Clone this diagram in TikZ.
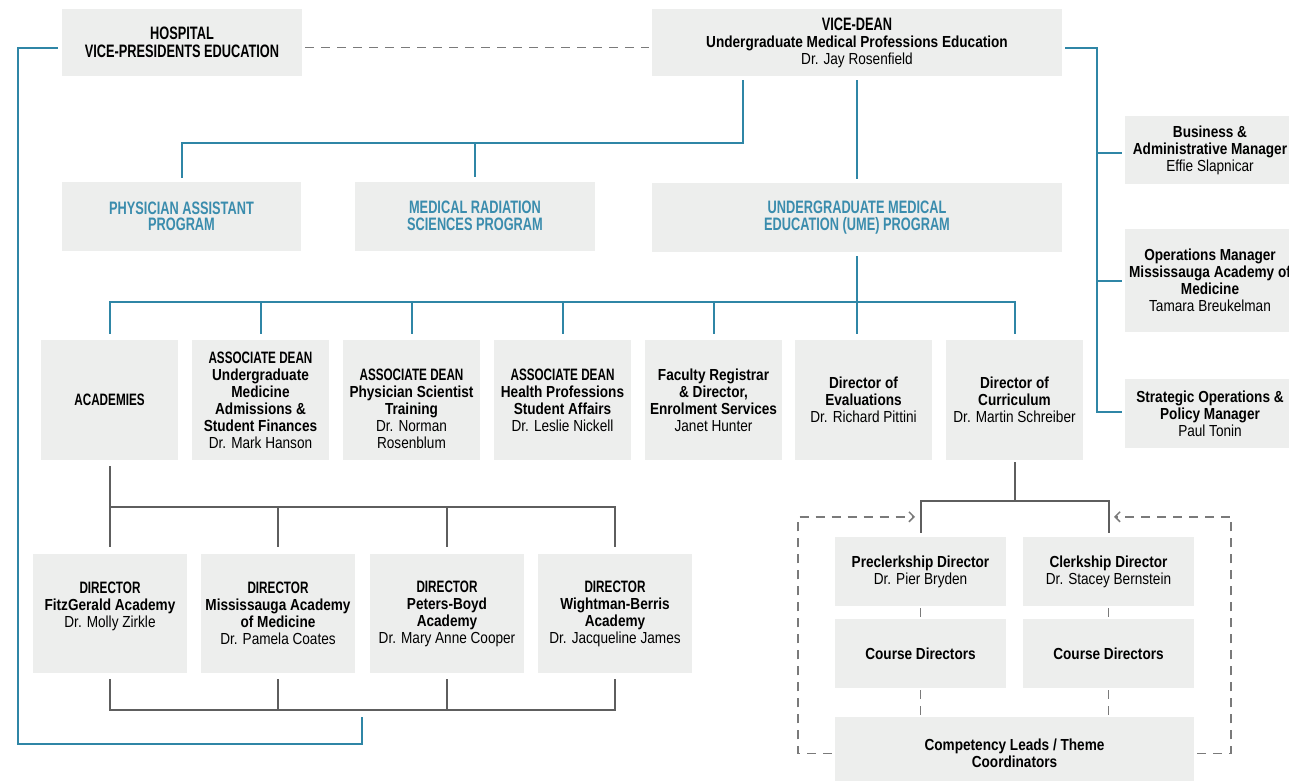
\documentclass[tikz,border=0pt]{standalone}
\usepackage{fontspec}
\setmainfont{Liberation Sans}[FakeStretch=0.85]
\newfontfamily\capsfont{Liberation Sans}[FakeStretch=0.71]
\usetikzlibrary{calc,arrows.meta}
\definecolor{boxgray}{HTML}{EDEEED}
\definecolor{lineblue}{HTML}{2F86A6}
\definecolor{textblue}{HTML}{3A8CAD}
\definecolor{linegray}{HTML}{5E5E5E}
\definecolor{dashgray}{HTML}{7A7A7A}
\newcommand\capl[1]{{\capsfont\bfseries\fontsize{16.5}{17}\selectfont #1}}
\newcommand\bigcapl[1]{{\capsfont\bfseries\fontsize{18}{17}\selectfont #1}}
\newcommand\bfl[1]{{\bfseries #1}}
\begin{document}
\begin{tikzpicture}[x=1pt,y=-1pt,
  box/.style={fill=boxgray,inner sep=0pt,align=center,text=black,font=\fontsize{16}{17}\selectfont},
  bigbox/.style={box,font=\fontsize{16}{18}\selectfont},
  prog/.style={box,font=\fontsize{16}{16.5}\selectfont,text=textblue},
  rbox/.style={box,minimum width=137pt,minimum height=120pt},
  dbox/.style={box,minimum width=154pt,minimum height=119pt},
  sbox/.style={box,minimum width=171pt,minimum height=69pt},
  bl/.style={draw=lineblue,line width=2pt},
  gl/.style={draw=linegray,line width=2pt},
  dl/.style={draw=dashgray,line width=1.5pt,dash pattern=on 9pt off 7pt},
  barb/.style={-{Straight Barb[length=5pt,width=10pt]}}
]
\useasboundingbox (0,0) rectangle (1289,780);

% top level
\node[bigbox,minimum width=240pt,minimum height=67pt] (hosp) at (182,42.5)
  {\bigcapl{HOSPITAL}\\\bigcapl{VICE-PRESIDENTS EDUCATION}};
\node[box,minimum width=410pt,minimum height=67pt] (vd) at (857,42.5)
  {\bigcapl{VICE-DEAN}\\\bfl{Undergraduate Medical Professions Education}\\Dr. Jay Rosenfield};

% programs
\node[prog,minimum width=239pt,minimum height=69pt] (pa) at (181.5,216.5)
  {\bigcapl{PHYSICIAN ASSISTANT}\\\bigcapl{PROGRAM}};
\node[prog,minimum width=240pt,minimum height=69pt] (mrs) at (475,216)
  {\bigcapl{MEDICAL RADIATION}\\\bigcapl{SCIENCES PROGRAM}};
\node[prog,minimum width=410pt,minimum height=69pt] (ume) at (857,217.5)
  {\bigcapl{UNDERGRADUATE MEDICAL}\\\bigcapl{EDUCATION (UME) PROGRAM}};

% right column
\node[box,minimum width=170pt,minimum height=68pt] (biz) at (1210,150)
  {\bfl{Business \&}\\\bfl{Administrative Manager}\\Effie Slapnicar};
\node[box,minimum width=170pt,minimum height=103pt] (ops) at (1210,280.5)
  {\bfl{Operations Manager}\\\bfl{Mississauga Academy of}\\\bfl{Medicine}\\Tamara Breukelman};
\node[box,minimum width=170pt,minimum height=69pt] (strat) at (1210,413.5)
  {\bfl{Strategic Operations \&}\\\bfl{Policy Manager}\\Paul Tonin};

% row 3
\node[rbox] (acad) at (109.5,400) {\capl{ACADEMIES}};
\node[rbox] (ad1) at (260.5,400)
  {\capl{ASSOCIATE DEAN}\\\bfl{Undergraduate}\\\bfl{Medicine}\\\bfl{Admissions \&}\\\bfl{Student Finances}\\Dr. Mark Hanson};
\node[rbox] (ad2) at (411.5,400)
  {\mbox{}\\[12pt]\capl{ASSOCIATE DEAN}\\\bfl{Physician Scientist}\\\bfl{Training}\\Dr. Norman\\Rosenblum};
\node[rbox] (ad3) at (562.5,400)
  {\capl{ASSOCIATE DEAN}\\\bfl{Health Professions}\\\bfl{Student Affairs}\\Dr. Leslie Nickell};
\node[rbox] (reg) at (713.5,400)
  {\bfl{Faculty Registrar}\\\bfl{\& Director,}\\\bfl{Enrolment Services}\\Janet Hunter};
\node[rbox] (eval) at (863.5,400)
  {\bfl{Director of}\\\bfl{Evaluations}\\Dr. Richard Pittini};
\node[rbox] (curr) at (1014.5,400)
  {\bfl{Director of}\\\bfl{Curriculum}\\Dr. Martin Schreiber};

% academy directors
\node[dbox] (d1) at (110,613.5)
  {\capl{DIRECTOR}\\\bfl{FitzGerald Academy}\\Dr. Molly Zirkle\\\mbox{}};
\node[dbox] (d2) at (278,613.5)
  {\capl{DIRECTOR}\\\bfl{Mississauga Academy}\\\bfl{of Medicine}\\Dr. Pamela Coates};
\node[dbox] (d3) at (447,613.5)
  {\capl{DIRECTOR}\\\bfl{Peters-Boyd}\\\bfl{Academy}\\Dr. Mary Anne Cooper};
\node[dbox] (d4) at (615,613.5)
  {\capl{DIRECTOR}\\\bfl{Wightman-Berris}\\\bfl{Academy}\\Dr. Jacqueline James};

% curriculum
\node[sbox] (pre) at (920.5,571.5) {\bfl{Preclerkship Director}\\Dr. Pier Bryden};
\node[sbox] (clk) at (1108.5,571.5) {\bfl{Clerkship Director}\\Dr. Stacey Bernstein};
\node[sbox] (cd1) at (920.5,653.5) {\bfl{Course Directors}};
\node[sbox] (cd2) at (1108.5,653.5) {\bfl{Course Directors}};
\node[box,minimum width=359pt,minimum height=73pt] (comp) at (1014.5,753.5)
  {\bfl{Competency Leads / Theme}\\\bfl{Coordinators}};

\coordinate (hospend) at (362,717);

% blue connectors
\draw[bl] ($(hosp.west)+(-4,5)$) -| (18,744) -| (hospend);
\draw[dl] ($(hosp.east)+(3,5)$) -- ($(vd.west)+(-3,5)$);
\draw[bl] ($(vd.east)+(3,5)$) -| ($(strat.west)+(-28,-1.5)$) -- ($(strat.west)+(-3,-1.5)$);
\draw[bl] ($(biz.west)+(-28,2.5)$) -- ($(biz.west)+(-3,2.5)$);
\draw[bl] ($(ops.west)+(-28,0)$) -- ($(ops.west)+(-3,0)$);
\draw[bl] ($(vd.south)+(-114,4)$) |- ($(pa.north)+(0,-39)$) -- ($(pa.north)+(0,-4)$);
\draw[bl] ($(mrs.north)+(0,-39)$) -- ($(mrs.north)+(0,-4)$);
\draw[bl] ($(vd.south)+(0,4)$) -- ($(ume.north)+(0,-4)$);
\draw[bl] ($(ume.south)+(0,4)$) -- ($(ume.south|-eval.north)+(0,-6)$);
\draw[bl] ($(acad.north)+(0,-6)$) |- ($(curr.north)+(0,-38)$) -- ($(curr.north)+(0,-6)$);
\foreach \n in {ad1,ad2,ad3,reg}
  \draw[bl] ($(\n.north)+(0,-38)$) -- ($(\n.north)+(0,-6)$);

% gray connectors
\draw[gl] ($(acad.south)+(0,6)$) -- ($(acad.south|-d1.north)+(0,-47)$);
\draw[gl] ($(d1.north)+(0,-7)$) |- ($(d4.north)+(0,-47)$) -- ($(d4.north)+(0,-7)$);
\foreach \n in {d2,d3}
  \draw[gl] ($(\n.north)+(0,-47)$) -- ($(\n.north)+(0,-7)$);
\draw[gl] ($(d1.south)+(0,6)$) |- ($(d4.south)+(0,37)$) -- ($(d4.south)+(0,6)$);
\foreach \n in {d2,d3}
  \draw[gl] ($(\n.south)+(0,6)$) -- ($(\n.south)+(0,37)$);

\draw[gl] ($(curr.south)+(0,2)$) -- ($(curr.south)+(0,41)$);
\draw[gl] ($(pre.north)+(0,-4)$) |- ($(clk.north)+(0,-36)$) -- ($(clk.north)+(0,-4)$);

% dashed connectors
\draw[dl] ($(pre.south)+(0,2)$) -- ($(cd1.north)+(0,-2)$);
\draw[dl] ($(clk.south)+(0,2)$) -- ($(cd2.north)+(0,-2)$);
\draw[dl] ($(cd1.south)+(0,2)$) -- ($(cd1.south|-comp.north)+(0,-2)$);
\draw[dl] ($(cd2.south)+(0,2)$) -- ($(cd2.south|-comp.north)+(0,-2)$);
\draw[dl,barb] ($(comp.west)+(-3,0)$) -| ($(pre.north)+(-122.5,-20)$) -- ($(pre.north)+(-5.5,-20)$);
\draw[dl,barb] ($(comp.east)+(3,0)$) -| ($(clk.north)+(122.5,-20)$) -- ($(clk.north)+(5.5,-20)$);
\end{tikzpicture}
\end{document}
